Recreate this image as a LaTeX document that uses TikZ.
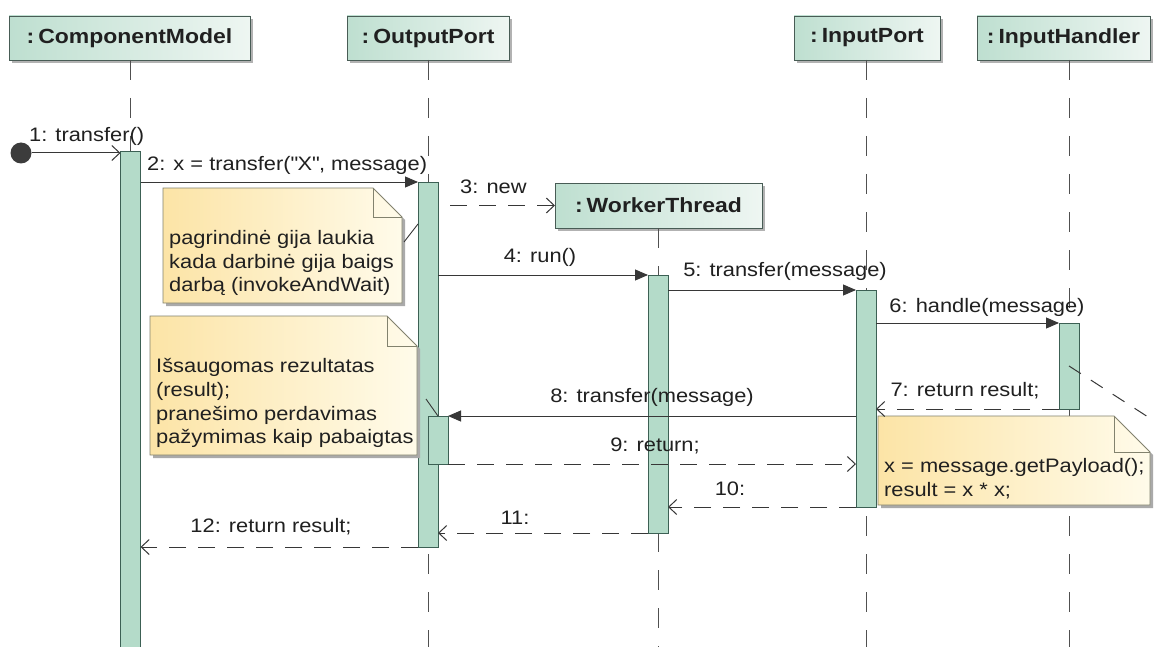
\documentclass[tikz,border=0pt]{standalone}
\usepackage{fontspec}
\setmainfont{Liberation Sans}[FakeStretch=1.12]
\usetikzlibrary{arrows.meta,calc,shadows}

\definecolor{txt}{RGB}{32,32,32}
\definecolor{linec}{RGB}{55,55,55}
\definecolor{lifec}{RGB}{80,80,80}
\definecolor{hdrL}{RGB}{190,223,208}
\definecolor{hdrR}{RGB}{238,246,242}
\definecolor{hdrline}{RGB}{72,92,85}
\definecolor{actfill}{RGB}{180,219,201}
\definecolor{actline}{RGB}{60,96,84}
\definecolor{noteL}{RGB}{252,228,166}
\definecolor{noteR}{RGB}{255,251,234}
\definecolor{noteline}{RGB}{130,130,110}
\definecolor{shadowc}{RGB}{170,170,170}
\definecolor{dotc}{RGB}{60,60,60}

% note outline with a folded corner, drawn around an empty frame node
\newcommand\drawnote[2]{%
  \fill[shadowc] ($(#1.north west)+(3,3)$) -- ($(#1.north east)+(3-#2,3)$)
     -- ($(#1.north east)+(3,3+#2)$) -- ($(#1.south east)+(3,3)$)
     -- ($(#1.south west)+(3,3)$) -- cycle;
  \path[draw=noteline, line width=0.9pt, left color=noteL, right color=noteR]
     (#1.north west) -- ($(#1.north east)+(-#2,0)$) -- ($(#1.north east)+(0,#2)$)
     -- (#1.south east) -- (#1.south west) -- cycle;
  \draw[noteline, line width=0.9pt] ($(#1.north east)+(-#2,0)$)
     -- ($(#1.north east)+(-#2,#2)$) -- ($(#1.north east)+(0,#2)$);
}
% colon prefix of an object name
\newcommand\objname[1]{:\kern4pt#1}
% straight double quote, set as a glyph so no text mapping curls it
\newcommand\sq{\XeTeXglyph\XeTeXcharglyph"22\relax}

\begin{document}
\begin{tikzpicture}[x=1pt, y=-1pt,
  hdr/.style={draw=hdrline, line width=0.9pt, left color=hdrL, right color=hdrR,
    font=\bfseries\fontsize{20.5}{24}\selectfont, text=txt,
    minimum height=44pt, inner sep=0pt, outer sep=0pt,
    drop shadow={shadow xshift=3pt, shadow yshift=-3pt, fill=black!55, opacity=0.55}},
  act/.style={draw=actline, fill=actfill, line width=0.9pt, minimum width=20pt,
    inner sep=0pt, outer sep=0pt, anchor=north},
  life/.style={draw=lifec, line width=1pt, dash pattern=on 20pt off 18pt},
  call/.style={draw=linec, line width=1pt, -{Triangle[length=13pt,width=11pt]}},
  found/.style={draw=linec, line width=1pt, -{Straight Barb[length=8pt,width=15pt,line width=1pt]}},
  reply/.style={draw=linec, line width=1pt, dash pattern=on 17pt off 12pt,
    -{Straight Barb[length=8pt,width=15pt,line width=1pt]}},
  link/.style={draw=linec, line width=0.9pt},
  linkdash/.style={draw=linec, line width=1pt, dash pattern=on 14pt off 12pt},
  lbl/.style={font=\fontsize{19.5}{23.8}\selectfont, text=txt, inner sep=0pt},
  notetxt/.style={lbl, align=left, anchor=north west},
  frame/.style={rectangle, inner sep=0pt, outer sep=0pt}
]
\useasboundingbox (0,0) rectangle (1155,647);
\fill[white] (0,0) rectangle (1155,647);
\clip (0,0) rectangle (1155,647);

\coordinate (bot) at (0,660);

% participant heads
\node[hdr, minimum width=241pt] (cm) at (129.5,38) {\objname{ComponentModel}};
\node[hdr, minimum width=162pt] (op) at (428,38) {\objname{OutputPort}};
\node[hdr, minimum width=146pt] (ip) at (867,38) {\objname{InputPort}};
\node[hdr, minimum width=173pt] (ih) at (1063.5,38) {\objname{InputHandler}};

% activation bars (placed first so lifelines can refer to them)
\path
  node[act, minimum height=510pt] (aCM) at (130.5,151) {}
  node[act, minimum height=365pt] (aOP) at (428,182) {}
  node[act, minimum height=258pt] (aWT) at (658,275) {}
  node[act, minimum height=217pt] (aIP) at (866,290) {}
  node[act, minimum height=86pt] (aIH) at (1069,323) {};

% lifelines
\draw[life] (aCM.north |- cm.south) -- (aCM.north |- bot);
\draw[life] (aOP.north |- op.south) -- (aOP.north |- bot);
\draw[life] (aIP.north |- ip.south) -- (aIP.north |- bot);
\draw[life] (aIH.north |- ih.south) -- (aIH.north |- bot);

% created participant
\node[hdr, minimum width=207pt, minimum height=45pt] (wt) at (658.5,205.5) {\objname{WorkerThread}};
\draw[life] (aWT.north |- wt.south) -- (aWT.north |- bot);

% bars on top of lifelines
\node[act, minimum height=510pt] at (aCM.north) {};
\node[act, minimum height=365pt] at (aOP.north) {};
\node[act, minimum height=48pt] (aOP2) at (438,416) {};
\node[act, minimum height=258pt] at (aWT.north) {};
\node[act, minimum height=217pt] at (aIP.north) {};
\node[act, minimum height=86pt] at (aIH.north) {};

% notes
\node[frame, minimum width=239pt, minimum height=115pt] (note1) at (282.5,245.5) {};
\node[frame, minimum width=267pt, minimum height=139pt] (note2) at (283.5,385.5) {};
\node[frame, minimum width=272pt, minimum height=89pt] (note3) at (1014,460.5) {};
\drawnote{note1}{29}
\drawnote{note2}{30}
\drawnote{note3}{36}

\node[notetxt] (t1) at (169,230) {pagrindinė gija laukia\\kada darbinė gija baigs\\darbą (invokeAndWait)};
\node[notetxt] (t2) at (156,358) {Išsaugomas rezultatas\\(result);\\pranešimo perdavimas\\pažymimas kaip pabaigtas};
\node[notetxt] (t3) at (884,458) {x = message.getPayload();\\result = x * x;};

% note anchors
\coordinate (n1a) at (404,242);
\coordinate (n1b) at (418,224);
\coordinate (n2a) at (426,399);
\coordinate (n3a) at (1162,426);
\draw[link] (n1a) -- (n1b);
\draw[link] (n2a) -- (aOP2.north);
\draw[linkdash] (aIH.center) -- (n3a);

% messages
\node[circle, fill=dotc, minimum size=21pt, inner sep=0pt] (start) at (21,153) {};
\draw[found] (start) -- (start -| aCM.west);
\draw[call] (aCM.east |- aOP.north) -- (aOP.north west);
\draw[reply, dash phase=17pt] (aOP.east |- wt.west) -- (wt.west);
\draw[call] (aOP.east |- aWT.north) -- (aWT.north west);
\draw[call] (aWT.east |- aIP.north) -- (aIP.north west);
\draw[call] (aIP.east |- aIH.north) -- (aIH.north west);
\draw[reply] (aIH.south west) -- (aIP.east |- aIH.south);
\draw[call] (aIP.west |- aOP2.north) -- (aOP2.north east);
\draw[reply] (aOP2.south east) -- (aIP.west |- aOP2.south);
\draw[reply] (aIP.south west) -- (aWT.east |- aIP.south);
\draw[reply] (aWT.south west) -- (aOP.east |- aWT.south);
\draw[reply] (aOP.south west) -- (aCM.east |- aOP.south);

% message labels
\node[lbl, anchor=west] (m1) at (29,136) {1: transfer()};
\node[lbl, anchor=west] (m2) at (147,165) {2: x = transfer(\sq X\sq, message)};
\node[lbl, anchor=west] (m3) at (460,187) {3: new};
\node[lbl] (m4) at (540,257) {4: run()};
\node[lbl] (m5) at (785,271) {5: transfer(message)};
\node[lbl] (m6) at (987,307) {6: handle(message)};
\node[lbl] (m7) at (965,391) {7: return result;};
\node[lbl] (m8) at (652,397) {8: transfer(message)};
\node[lbl] (m9) at (655,446) {9: return;};
\node[lbl] (m10) at (730,489) {10:};
\node[lbl] (m11) at (515,518) {11:};
\node[lbl] (m12) at (271,527) {12: return result;};
\end{tikzpicture}
\end{document}
